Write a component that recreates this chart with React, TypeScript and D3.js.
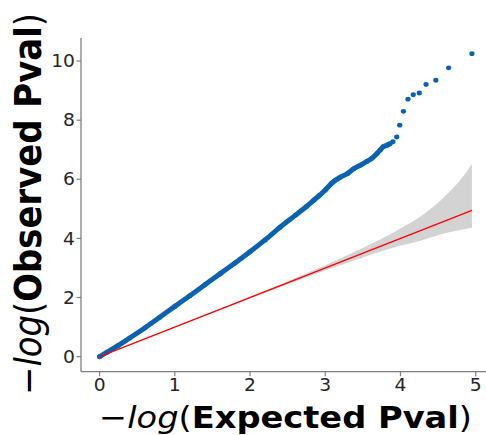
import React from "react";
import * as d3 from "d3";

// Dense part of the QQ scatter: expected (-log10) vs observed (-log10)
const curveExpected = [0, 0.1, 0.25, 0.4, 0.6, 0.8, 1.0, 1.2, 1.4, 1.6, 1.8, 2.0, 2.2, 2.4, 2.6, 2.75, 2.85, 2.92, 3.0, 3.1, 3.2, 3.3, 3.38, 3.47, 3.55, 3.62, 3.69, 3.73, 3.77, 3.82, 3.86];
const curveObserved = [0, 0.15, 0.38, 0.63, 0.97, 1.33, 1.7, 2.06, 2.43, 2.8, 3.17, 3.55, 3.95, 4.38, 4.78, 5.08, 5.3, 5.45, 5.64, 5.9, 6.07, 6.2, 6.36, 6.48, 6.6, 6.71, 6.88, 6.99, 7.1, 7.15, 7.2];

// Separated tail points (top hits)
const tailExpected = [3.9, 3.95, 3.99, 4.04, 4.1, 4.17, 4.25, 4.34, 4.47, 4.64, 4.95];
const tailObserved = [7.27, 7.43, 7.83, 8.3, 8.71, 8.86, 8.92, 9.21, 9.35, 9.77, 10.25];

// 95% confidence band around the null line
const bandExpected = [0, 1.0, 1.5, 2.0, 2.5, 3.0, 3.5, 4.0, 4.3, 4.5, 4.65, 4.8, 4.95];
const bandLower = [0, 0.99, 1.484, 1.97, 2.45, 2.914, 3.353, 3.756, 3.95, 4.11, 4.205, 4.29, 4.36];
const bandUpper = [0, 1.01, 1.516, 2.03, 2.553, 3.095, 3.678, 4.337, 4.8, 5.21, 5.567, 5.99, 6.52];

// Null line y = x
const nullLine = [0, 4.95];

const xTicks = [0, 1, 2, 3, 4, 5];
const yTicks = [0, 2, 4, 6, 8, 10];

const W = 486;
const H = 435;
const left = 81;
const right = 490;
const top = 38;
const bottom = 371.7;
const SX = 1.1; // horizontal stretch of the reference rendering

export default function App() {
  const x = d3.scaleLinear().domain([-0.247, 5.19]).range([left, right]);
  const y = d3.scaleLinear().domain([-0.51, 10.78]).range([bottom, top]);

  const curvePts: [number, number][] = curveExpected.map((e, i) => [e, curveObserved[i]]);
  const line = d3
    .line<[number, number]>()
    .x((d) => x(d[0]))
    .y((d) => y(d[1]))
    .curve(d3.curveMonotoneX);

  const bandData = bandExpected.map((e, i) => ({ e, lo: bandLower[i], hi: bandUpper[i] }));
  const area = d3
    .area<{ e: number; lo: number; hi: number }>()
    .x((d) => x(d.e))
    .y0((d) => y(d.lo))
    .y1((d) => y(d.hi))
    .curve(d3.curveMonotoneX);

  const blue = "#0a62b0";
  const spine = "#808080";
  const txt = "#262626";
  const font = "DejaVu Sans";

  return (
    <svg
      width={W}
      height={H}
      style={{ position: "absolute", left: 0, top: 0, background: "#fff" }}
      fontFamily={font}
    >
      <rect width={W} height={H} fill="#fff" />
      {/* scatter dense */}
      <path
        d={line(curvePts) || ""}
        fill="none"
        stroke={blue}
        strokeWidth={5}
        strokeLinecap="round"
        strokeLinejoin="round"
      />
      {curvePts.map((d, i) => (
        <circle key={"c" + i} cx={x(d[0])} cy={y(d[1])} r={2.5} fill={blue} />
      ))}
      {tailExpected.map((e, i) => (
        <ellipse key={"t" + i} cx={x(e)} cy={y(tailObserved[i])} rx={2.6} ry={2.4} fill={blue} />
      ))}
      {/* confidence band */}
      <path d={area(bandData) || ""} fill="#d3d3d3" />
      {/* null line */}
      <line
        x1={x(nullLine[0])}
        y1={y(nullLine[0])}
        x2={x(nullLine[1])}
        y2={y(nullLine[1])}
        stroke="#ff0000"
        strokeWidth={1.4}
      />
      {/* spines */}
      <line x1={left} y1={top} x2={left} y2={bottom} stroke={spine} strokeWidth={1.3} />
      <line x1={left} y1={bottom} x2={right} y2={bottom} stroke={spine} strokeWidth={1.3} />
      {/* y ticks */}
      {yTicks.map((t) => (
        <g key={"y" + t}>
          <line x1={left - 4.5} x2={left} y1={y(t)} y2={y(t)} stroke={spine} strokeWidth={1.2} />
          <text
            transform={`translate(${left - 6}, ${y(t) + 6.2}) scale(${SX},1)`}
            textAnchor="end"
            fontSize={17}
            fill={txt}
          >
            {t}
          </text>
        </g>
      ))}
      {/* x ticks */}
      {xTicks.map((t) => (
        <g key={"x" + t}>
          <line x1={x(t)} x2={x(t)} y1={bottom} y2={bottom + 4.5} stroke={spine} strokeWidth={1.2} />
          <text
            transform={`translate(${x(t)}, 391) scale(${SX},1)`}
            textAnchor="middle"
            fontSize={17}
            fill={txt}
          >
            {t}
          </text>
        </g>
      ))}
      {/* x label */}
      <text
        transform={`translate(285.5, 427.5) scale(${SX},1)`}
        textAnchor="middle"
        fontSize={30.6}
        fill="#000"
      >
        <tspan>−</tspan>
        <tspan fontStyle="italic">log</tspan>
        <tspan>(</tspan>
        <tspan fontWeight="bold">Expected Pval</tspan>
        <tspan>)</tspan>
      </text>
      {/* y label */}
      <text
        transform={`translate(40.5, 204) scale(${SX},1) rotate(-90)`}
        textAnchor="middle"
        fontSize={33.9}
        fill="#000"
      >
        <tspan>−</tspan>
        <tspan fontStyle="italic">log</tspan>
        <tspan>(</tspan>
        <tspan fontWeight="bold">Observed Pval</tspan>
        <tspan>)</tspan>
      </text>
    </svg>
  );
}
